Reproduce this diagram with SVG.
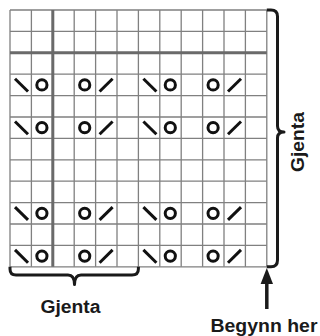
<svg xmlns="http://www.w3.org/2000/svg" xmlns:xlink="http://www.w3.org/1999/xlink" width="320" height="336" viewBox="0 0 320 336">
<style>
.thin{stroke:#808080;stroke-width:1.3;fill:none}
.thick{stroke:#6a6a6a;stroke-width:3;fill:none}
.sym{stroke:#111;stroke-width:3;fill:none;stroke-linecap:butt}
.brace{stroke:#1a1a1a;stroke-width:3;fill:none;stroke-linejoin:round}
.lbl{font-family:"Liberation Sans",Arial,sans-serif;font-size:18px;font-weight:bold;fill:#1a1a1a}
</style>
<defs>
<line id="bs" class="sym" x1="5" y1="4.5" x2="18" y2="17.3"/>
<line id="fs" class="sym" x1="4" y1="17.3" x2="17" y2="4.5"/>
<circle id="yo" class="sym" cx="10.5" cy="10.7" r="5.1"/>
</defs>
<rect width="320" height="336" fill="#fff"/>
<g id="grid">
<path class="thin" d="M10 10V266.8M31.4 10V266.8M74.2 10V266.8M95.6 10V266.8M117 10V266.8M138.4 10V266.8M159.8 10V266.8M181.2 10V266.8M202.6 10V266.8M224 10V266.8M245.4 10V266.8M266.8 10V266.8"/>
<path class="thin" d="M10 10H266.8M10 31.4H266.8M10 74.2H266.8M10 95.6H266.8M10 117H266.8M10 138.4H266.8M10 159.8H266.8M10 181.2H266.8M10 202.6H266.8M10 224H266.8M10 245.4H266.8M10 266.8H266.8"/>
<path class="thick" d="M52.8 10V266.8M10 52.8H266.8"/>
</g>
<g id="symbols">
<g id="row4" transform="translate(0,74.2)">
<use xlink:href="#bs" x="10"/><use xlink:href="#yo" x="31.4"/><use xlink:href="#yo" x="74.2"/><use xlink:href="#fs" x="95.6"/>
<use xlink:href="#bs" x="138.4"/><use xlink:href="#yo" x="159.8"/><use xlink:href="#yo" x="202.6"/><use xlink:href="#fs" x="224"/>
</g>
<g id="row6" transform="translate(0,117)">
<use xlink:href="#bs" x="10"/><use xlink:href="#yo" x="31.4"/><use xlink:href="#yo" x="74.2"/><use xlink:href="#fs" x="95.6"/>
<use xlink:href="#bs" x="138.4"/><use xlink:href="#yo" x="159.8"/><use xlink:href="#yo" x="202.6"/><use xlink:href="#fs" x="224"/>
</g>
<g id="row10" transform="translate(0,202.6)">
<use xlink:href="#bs" x="10"/><use xlink:href="#yo" x="31.4"/><use xlink:href="#yo" x="74.2"/><use xlink:href="#fs" x="95.6"/>
<use xlink:href="#bs" x="138.4"/><use xlink:href="#yo" x="159.8"/><use xlink:href="#yo" x="202.6"/><use xlink:href="#fs" x="224"/>
</g>
<g id="row12" transform="translate(0,245.4)">
<use xlink:href="#bs" x="10"/><use xlink:href="#yo" x="31.4"/><use xlink:href="#yo" x="74.2"/><use xlink:href="#fs" x="95.6"/>
<use xlink:href="#bs" x="138.4"/><use xlink:href="#yo" x="159.8"/><use xlink:href="#yo" x="202.6"/><use xlink:href="#fs" x="224"/>
</g>
</g>
<g id="connectors">
<path id="brace-right" class="brace" d="M266.8 10H271Q277.5 10 277.5 16.5V126Q277.5 132 284 132Q277.5 132 277.5 138V260Q277.5 266.8 271 266.8H266.8"/>
<path id="brace-bottom" class="brace" d="M10 266.8V269Q10 275 16 275H68Q74.5 275 74.5 284.5Q74.5 275 81 275H132Q138.4 275 138.4 269V266.8"/>
<g id="arrow">
<line x1="266.8" y1="282" x2="266.8" y2="309" stroke="#1a1a1a" stroke-width="3.5"/>
<polygon points="266.8,268 260.6,284 273,284" fill="#1a1a1a"/>
</g>
</g>
<g id="labels">
<text class="lbl" x="70.5" y="313" text-anchor="middle" textLength="60" lengthAdjust="spacingAndGlyphs">Gjenta</text>
<text class="lbl" x="264" y="332" text-anchor="middle" textLength="107" lengthAdjust="spacingAndGlyphs">Begynn her</text>
<text class="lbl" transform="translate(304,142) rotate(-90)" text-anchor="middle" textLength="60" lengthAdjust="spacingAndGlyphs">Gjenta</text>
</g>
</svg>
